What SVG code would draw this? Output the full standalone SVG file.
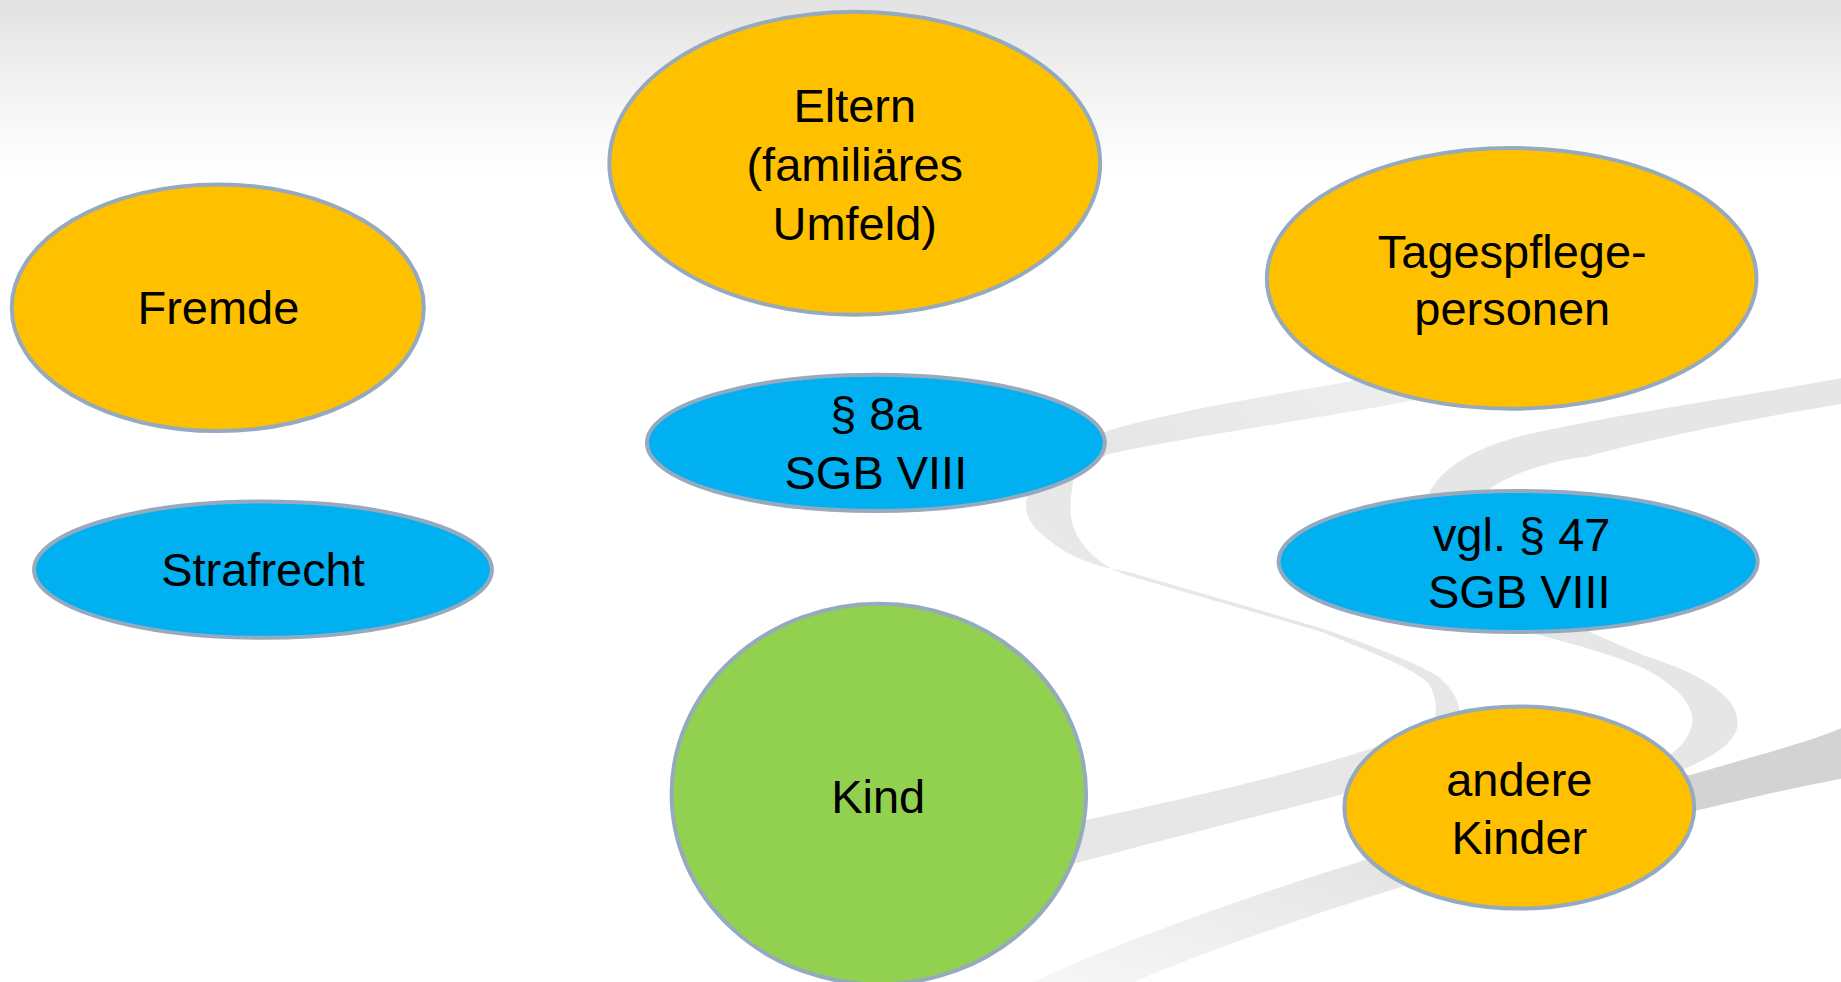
<svg xmlns="http://www.w3.org/2000/svg" width="1841" height="982" viewBox="0 0 1841 982">
<defs>
<linearGradient id="bg" x1="0" y1="0" x2="0" y2="1">
<stop offset="0" stop-color="#e2e2e2"/>
<stop offset="0.6" stop-color="#f6f6f6"/>
<stop offset="1" stop-color="#ffffff"/>
</linearGradient>
<linearGradient id="ribD" x1="1" y1="0" x2="0" y2="1">
<stop offset="0" stop-color="#e2e2e2"/>
<stop offset="1" stop-color="#f7f7f7"/>
</linearGradient>
<linearGradient id="ribA" x1="1" y1="0" x2="0" y2="1">
<stop offset="0" stop-color="#f0f0f0"/>
<stop offset="0.5" stop-color="#e6e6e6"/>
<stop offset="1" stop-color="#ececec"/>
</linearGradient>
</defs>
<style>
.node{stroke:#95aabe;stroke-width:3.4}
.orange{fill:#ffc000}
.blue{fill:#00b0f0}
.green{fill:#92d050}
.lbl{font-family:"Liberation Sans",Arial,sans-serif;font-size:40px;fill:#000;text-anchor:middle}
</style>
<rect x="0" y="0" width="1841" height="982" fill="#ffffff"/>
<rect x="0" y="0" width="1841" height="180" fill="url(#bg)"/>
<g transform="scale(1.17411,1.17464)">
<g id="background">
<path fill="url(#ribA)" d="M1160,318 L1149,325 C1090,335 1000,350 943,367 L900,385 L878,415 C870,430 872,445 895,461 C915,477 935,482 961,487 L1126,535 C1170,550 1200,562 1222,574 C1245,590 1248,610 1240,640 L1210,645 C1222,620 1228,600 1217,582 C1205,570 1180,560 1126,538 L961,490 C940,483 928,472 920,460 C910,445 910,430 915,405 L943,387 C1000,374 1100,360 1204,341 L1235,332 Z"/>
<path fill="#e6e6e6" d="M1568,322 C1480,338 1380,352 1300,370 C1260,380 1230,395 1217,420 L1240,470 L1308,540 C1340,548 1380,560 1400,569 C1425,582 1445,600 1441,617 C1438,630 1428,640 1418,645 L1400,660 L1427,658 C1450,648 1480,635 1480,615 C1480,595 1455,575 1400,558 L1354,538 L1300,500 L1263,421 C1280,405 1320,392 1350,389 C1420,370 1500,355 1568,344 Z"/>
<path fill="#d3d3d3" d="M1400,650 L1439,660 C1490,645 1540,632 1568,620 L1568,663 C1520,672 1480,682 1445,690 L1410,700 Z"/>
<path fill="#e7e7e7" d="M916,690 L925,698 C990,684 1100,660 1172,636 L1200,625 L1190,660 L1167,670 C1100,688 1000,712 916,735 L905,740 Z"/>
<path fill="url(#ribD)" d="M1190,720 L1163,732 C1080,758 990,788 897,828 L880,836 L966,836 C1030,808 1120,778 1194,755 L1210,748 Z"/>
</g>
<g id="connectors"></g>
<g id="node-fremde">
<ellipse class="node orange" cx="185.5" cy="262" rx="175.5" ry="105"/>
<text class="lbl" x="186" y="276">Fremde</text>
</g>
<g id="node-eltern">
<ellipse class="node orange" cx="728" cy="139" rx="209" ry="129"/>
<text class="lbl" x="728" y="104">Eltern</text>
<text class="lbl" x="728" y="154">(familiäres</text>
<text class="lbl" x="728" y="204">Umfeld)</text>
</g>
<g id="node-tagespflege">
<ellipse class="node orange" cx="1287.5" cy="237" rx="208.5" ry="111"/>
<text class="lbl" x="1288" y="228">Tagespflege-</text>
<text class="lbl" x="1288" y="277">personen</text>
</g>
<g id="node-8a">
<ellipse class="node blue" cx="746" cy="377" rx="195" ry="58"/>
<text class="lbl" x="746" y="366">§ 8a</text>
<text class="lbl" x="746" y="416">SGB VIII</text>
</g>
<g id="node-strafrecht">
<ellipse class="node blue" cx="224" cy="485" rx="195" ry="58"/>
<text class="lbl" x="224" y="499">Strafrecht</text>
</g>
<g id="node-47">
<ellipse class="node blue" cx="1293" cy="478" rx="204" ry="60"/>
<text class="lbl" x="1296" y="469">vgl. § 47</text>
<text class="lbl" x="1294" y="518">SGB VIII</text>
</g>
<g id="node-kind">
<ellipse class="node green" cx="748.5" cy="676" rx="176.5" ry="162"/>
<text class="lbl" x="748" y="692">Kind</text>
</g>
<g id="node-andere">
<ellipse class="node orange" cx="1294" cy="687.5" rx="149" ry="86"/>
<text class="lbl" x="1294" y="678">andere</text>
<text class="lbl" x="1294" y="727">Kinder</text>
</g>
</g>
</svg>
